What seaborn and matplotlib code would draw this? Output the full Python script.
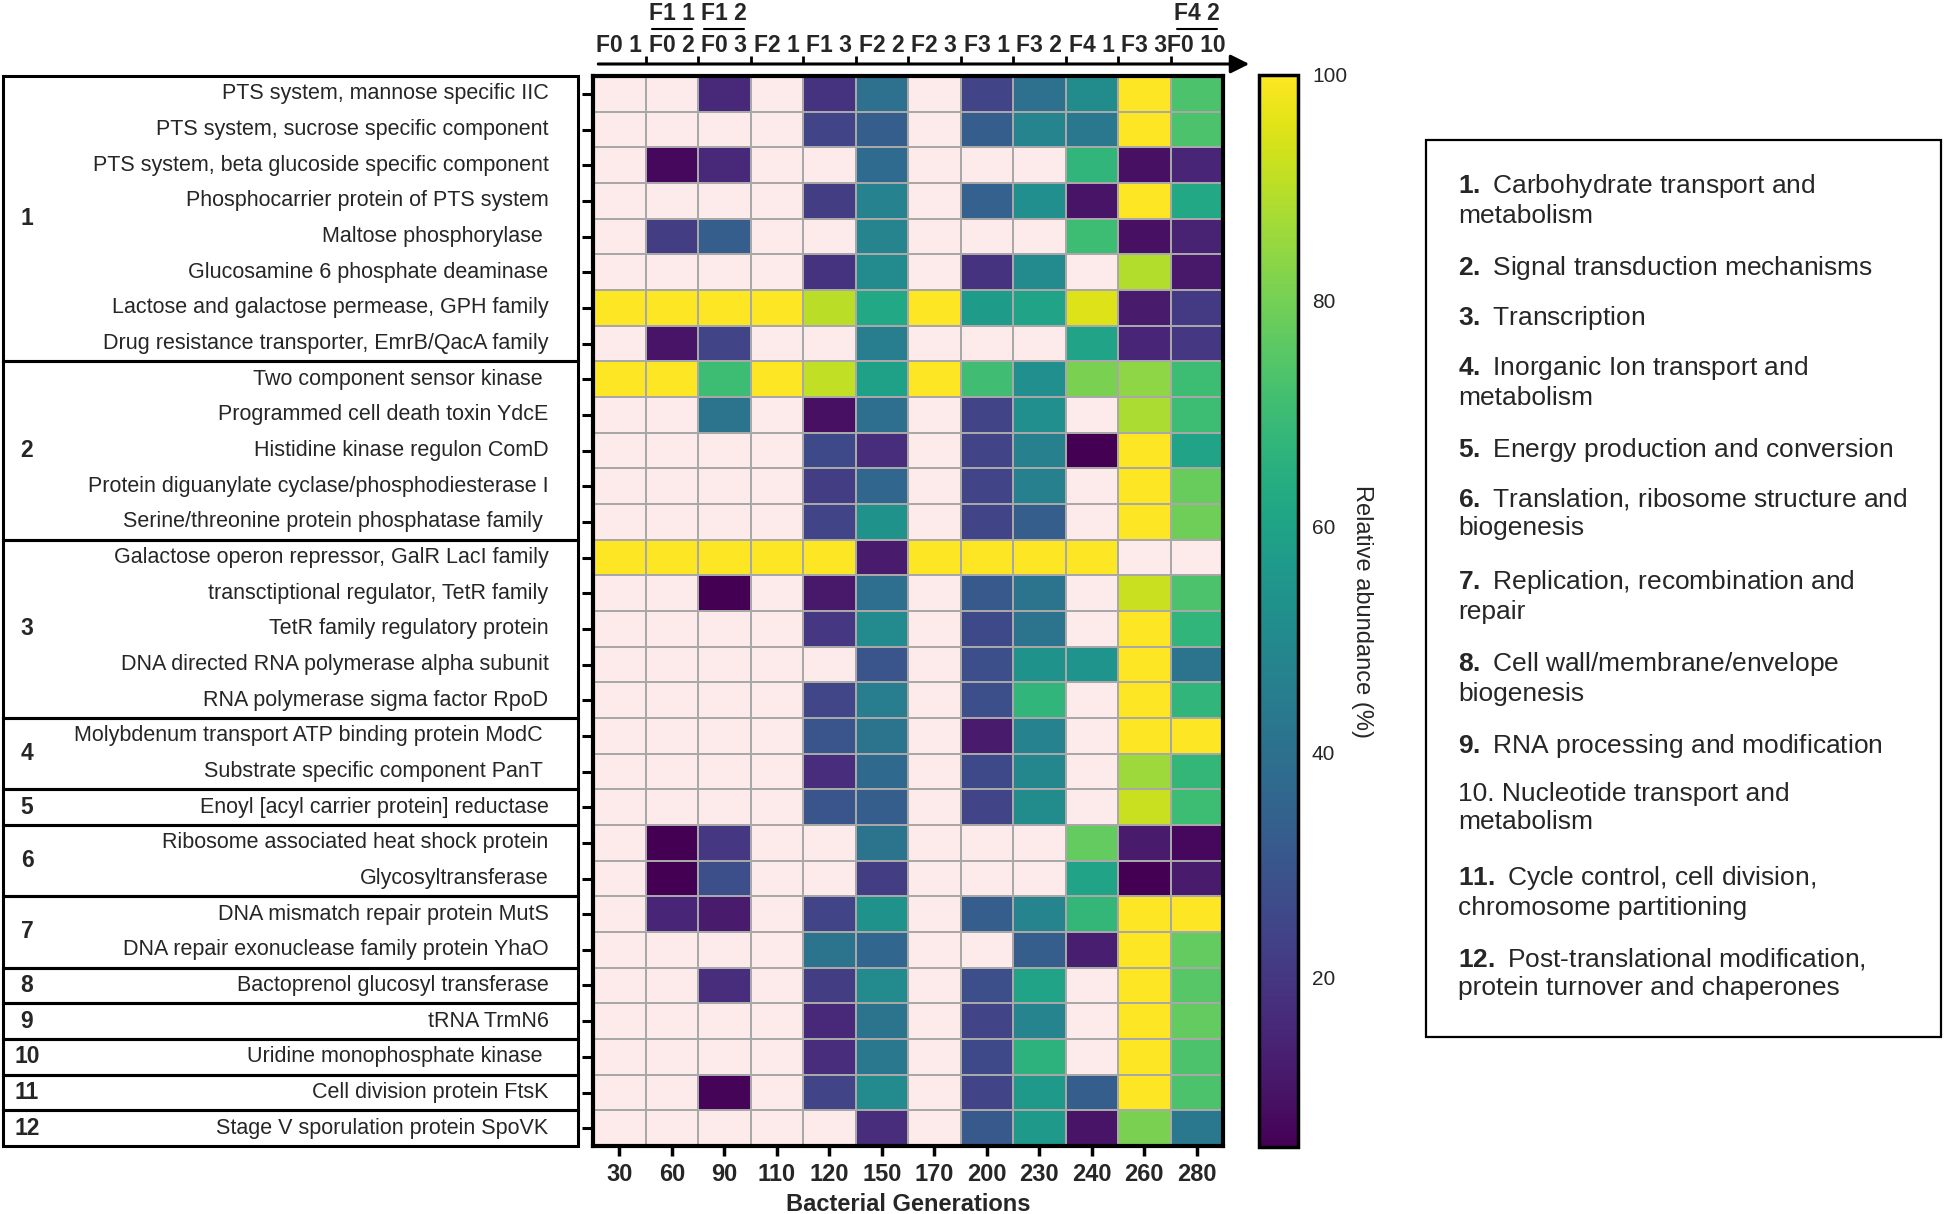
#!/usr/bin/env python3
"""
Heatmap of relative abundance of functional proteins across bacterial generations,
grouped by COG functional class.
"""

import pandas as pd
import matplotlib
matplotlib.use("Agg")
import matplotlib.pyplot as plt
import matplotlib.patches as mpatches
from matplotlib.transforms import blended_transform_factory
import seaborn as sns

# ── data ────────────────────────────────────────────────────────────────────
GENERATIONS = [30, 60, 90, 110, 120, 150, 170, 200, 230, 240, 260, 280]
SAMPLES = ["F0 1", "F0 2", "F0 3", "F2 1", "F1 3", "F2 2",
           "F2 3", "F3 1", "F3 2", "F4 1", "F3 3", "F0 10"]
SAMPLES_EXTRA = ["", "F1 1", "F1 2", "", "", "", "", "", "", "", "", "F4 2"]

PROTEINS = [
    "PTS system, mannose specific IIC",
    "PTS system, sucrose specific component",
    "PTS system, beta glucoside specific component",
    "Phosphocarrier protein of PTS system",
    "Maltose phosphorylase ",
    "Glucosamine 6 phosphate deaminase",
    "Lactose and galactose permease, GPH family",
    "Drug resistance transporter, EmrB/QacA family",
    "Two component sensor kinase ",
    "Programmed cell death toxin YdcE",
    "Histidine kinase regulon ComD",
    "Protein diguanylate cyclase/phosphodiesterase I",
    "Serine/threonine protein phosphatase family ",
    "Galactose operon repressor, GalR LacI family",
    "transctiptional regulator, TetR family",
    "TetR family regulatory protein",
    "DNA directed RNA polymerase alpha subunit",
    "RNA polymerase sigma factor RpoD",
    "Molybdenum transport ATP binding protein ModC ",
    "Substrate specific component PanT ",
    "Enoyl [acyl carrier protein] reductase",
    "Ribosome associated heat shock protein",
    "Glycosyltransferase",
    "DNA mismatch repair protein MutS",
    "DNA repair exonuclease family protein YhaO",
    "Bactoprenol glucosyl transferase",
    "tRNA TrmN6",
    "Uridine monophosphate kinase ",
    "Cell division protein FtsK",
    "Stage V sporulation protein SpoVK",
]

GROUP_SIZES = [8, 5, 5, 2, 1, 2, 2, 1, 1, 1, 1, 1]

COG_CLASSES = [
    ("1.", "Carbohydrate transport and\nmetabolism", True),
    ("2.", "Signal transduction mechanisms", True),
    ("3.", "Transcription", True),
    ("4.", "Inorganic Ion transport and\nmetabolism", True),
    ("5.", "Energy production and conversion", True),
    ("6.", "Translation, ribosome structure and\nbiogenesis", True),
    ("7.", "Replication, recombination and\nrepair", True),
    ("8.", "Cell wall/membrane/envelope\nbiogenesis", True),
    ("9.", "RNA processing and modification", True),
    ("10.", "Nucleotide transport and\nmetabolism", False),
    ("11.", "Cycle control, cell division,\nchromosome partitioning", True),
    ("12.", "Post-translational modification,\nprotein turnover and chaperones", True),
]

# relative abundance (%), 0 = not detected
ABUNDANCE = [
    [0, 0, 16, 0, 19, 40, 0, 24, 40, 51, 100, 73],
    [0, 0, 0, 0, 24, 33, 0, 33, 48, 43, 100, 73],
    [0, 7, 16, 0, 0, 38, 0, 0, 0, 67, 9, 15],
    [0, 0, 0, 0, 22, 47, 0, 34, 52, 10, 100, 62],
    [0, 22, 33, 0, 0, 48, 0, 0, 0, 70, 9, 14],
    [0, 0, 0, 0, 19, 50, 0, 19, 50, 0, 89, 11],
    [100, 100, 100, 100, 90, 62, 100, 57, 60, 95, 12, 21],
    [0, 10, 24, 0, 0, 45, 0, 0, 0, 60, 15, 20],
    [100, 100, 70, 100, 91, 59, 100, 71, 52, 81, 84, 70],
    [0, 0, 41, 0, 9, 39, 0, 24, 52, 0, 88, 70],
    [0, 0, 0, 0, 26, 17, 0, 24, 46, 5, 100, 60],
    [0, 0, 0, 0, 22, 36, 0, 24, 46, 0, 100, 78],
    [0, 0, 0, 0, 24, 53, 0, 24, 33, 0, 100, 79],
    [100, 100, 100, 100, 100, 12, 100, 100, 100, 100, 0, 0],
    [0, 0, 5, 0, 11, 39, 0, 31, 41, 0, 92, 73],
    [0, 0, 0, 0, 20, 50, 0, 26, 41, 0, 100, 67],
    [0, 0, 0, 0, 0, 30, 0, 28, 53, 54, 100, 41],
    [0, 0, 0, 0, 25, 45, 0, 28, 67, 0, 100, 67],
    [0, 0, 0, 0, 30, 41, 0, 12, 47, 0, 100, 100],
    [0, 0, 0, 0, 17, 37, 0, 26, 49, 0, 86, 68],
    [0, 0, 0, 0, 30, 33, 0, 24, 51, 0, 92, 70],
    [0, 5, 20, 0, 0, 41, 0, 0, 0, 77, 12, 7],
    [0, 5, 28, 0, 0, 22, 0, 0, 0, 60, 5, 12],
    [0, 15, 12, 0, 24, 53, 0, 33, 48, 68, 100, 100],
    [0, 0, 0, 0, 41, 36, 0, 0, 33, 13, 100, 77],
    [0, 0, 17, 0, 22, 50, 0, 28, 60, 0, 100, 75],
    [0, 0, 0, 0, 16, 41, 0, 24, 48, 0, 100, 77],
    [0, 0, 0, 0, 17, 43, 0, 26, 66, 0, 100, 73],
    [0, 0, 6, 0, 24, 50, 0, 24, 56, 33, 100, 73],
    [0, 0, 0, 0, 0, 17, 0, 31, 56, 10, 81, 43],
]

ABSENT_COLOR = "#fdebeb"
W, H = 1944, 1214

# ── style ───────────────────────────────────────────────────────────────────
sns.set_style("white")
plt.rcParams["font.family"] = ["Liberation Sans", "DejaVu Sans"]
plt.rcParams["mathtext.fontset"] = "custom"
plt.rcParams["mathtext.rm"] = "Liberation Sans"
plt.rcParams["mathtext.bf"] = "Liberation Sans:bold"

fig = plt.figure(figsize=(W / 100, H / 100), dpi=100)
ax = fig.add_axes([593 / W, 1 - 1146 / H, 630 / W, 1070 / H])
cax = fig.add_axes([1259 / W, 1 - 1147 / H, 39 / W, 1072 / H])

df = pd.DataFrame(ABUNDANCE, index=PROTEINS, columns=GENERATIONS)
cmap = plt.get_cmap("viridis").copy()
cmap.set_under(ABSENT_COLOR)

sns.heatmap(df, ax=ax, cbar_ax=cax, cmap=cmap, vmin=5, vmax=100,
            linewidths=1.2, linecolor="#a8a8a8",
            xticklabels=True, yticklabels=True,
            cbar_kws={"ticks": [20, 40, 60, 80, 100]})

# heatmap frame and ticks
for sp in ax.spines.values():
    sp.set_visible(True)
    sp.set_linewidth(3)
    sp.set_color("black")
ax.tick_params(axis="y", left=True, length=8, width=2.2, pad=24,
               labelsize=15.5, labelrotation=0, color="black")
ax.tick_params(axis="x", bottom=True, length=7, width=2.5, pad=5,
               labelsize=17, labelrotation=0, color="black")
for lbl in ax.get_yticklabels():
    lbl.set_verticalalignment("center")
for lbl in ax.get_xticklabels():
    lbl.set_fontweight("bold")
ax.set_ylabel("")
ax.set_xlabel("Bacterial Generations", fontsize=17, fontweight="bold", labelpad=5)

# colorbar
cbar = ax.collections[0].colorbar
cbar.outline.set_linewidth(2.5)
cbar.outline.set_edgecolor("black")
cax.tick_params(direction="in", left=True, right=True, length=7, width=2,
                labelsize=15, pad=10)
cbar.set_label("Relative abundance (%)", rotation=270, va="bottom",
               fontsize=17, labelpad=3)

# ── top sample axis with arrow ──────────────────────────────────────────────
trans_top = blended_transform_factory(ax.transData, fig.transFigure)
y_line = 1 - 64 / H
ax.annotate("", xy=(12.5, y_line), xytext=(0.1, y_line),
            xycoords=trans_top, textcoords=trans_top, annotation_clip=False,
            arrowprops=dict(arrowstyle="-|>", lw=2.2, color="black",
                            mutation_scale=28, shrinkA=0, shrinkB=0))
for b in range(1, len(SAMPLES)):
    ax.plot([b, b], [y_line, y_line + 8 / H], transform=trans_top,
            color="black", lw=2, clip_on=False, solid_capstyle="butt")
for i, (lo, hi) in enumerate(zip(SAMPLES, SAMPLES_EXTRA)):
    ax.text(i + 0.5, 1 - 46 / H, lo, transform=trans_top, ha="center",
            va="center", fontsize=16.5, fontweight="bold")
    if hi:
        ax.text(i + 0.5, 1 - 13 / H, hi, transform=trans_top, ha="center",
                va="center", fontsize=16.5, fontweight="bold")
        ax.plot([i + 0.12, i + 0.88], [1 - 29 / H, 1 - 29 / H],
                transform=trans_top, color="black", lw=1.5, clip_on=False)

# ── functional group boxes on the left ─────────────────────────────────────
trans_left = blended_transform_factory(fig.transFigure, ax.transData)
start = 0
for g, size in enumerate(GROUP_SIZES, start=1):
    rect = mpatches.Rectangle((3 / W, start), (578 - 3) / W, size,
                              transform=trans_left, fill=False,
                              lw=2.2, edgecolor="black", clip_on=False)
    ax.add_patch(rect)
    ax.text(27 / W, start + size / 2, str(g), transform=trans_left,
            ha="center", va="center", fontsize=16.5, fontweight="bold")
    start += size

# ── COG class legend box ───────────────────────────────────────────────────
fig.add_artist(mpatches.Rectangle((1426 / W, 1 - 1037 / H), (1941 - 1426) / W,
                                  (1037 - 140) / H, transform=fig.transFigure,
                                  fill=False, lw=1.6, edgecolor="black"))
y_top = 172
for num, desc, bold in COG_CLASSES:
    label = (r"$\mathbf{" + num + "}$" if bold else num) + " " + desc
    fig.text(1458 / W, 1 - y_top / H, label, fontsize=19, va="top",
             linespacing=1.22)
    y_top += (desc.count("\n") + 1) * 32 + 18

fig.savefig("out.png", dpi=100)
